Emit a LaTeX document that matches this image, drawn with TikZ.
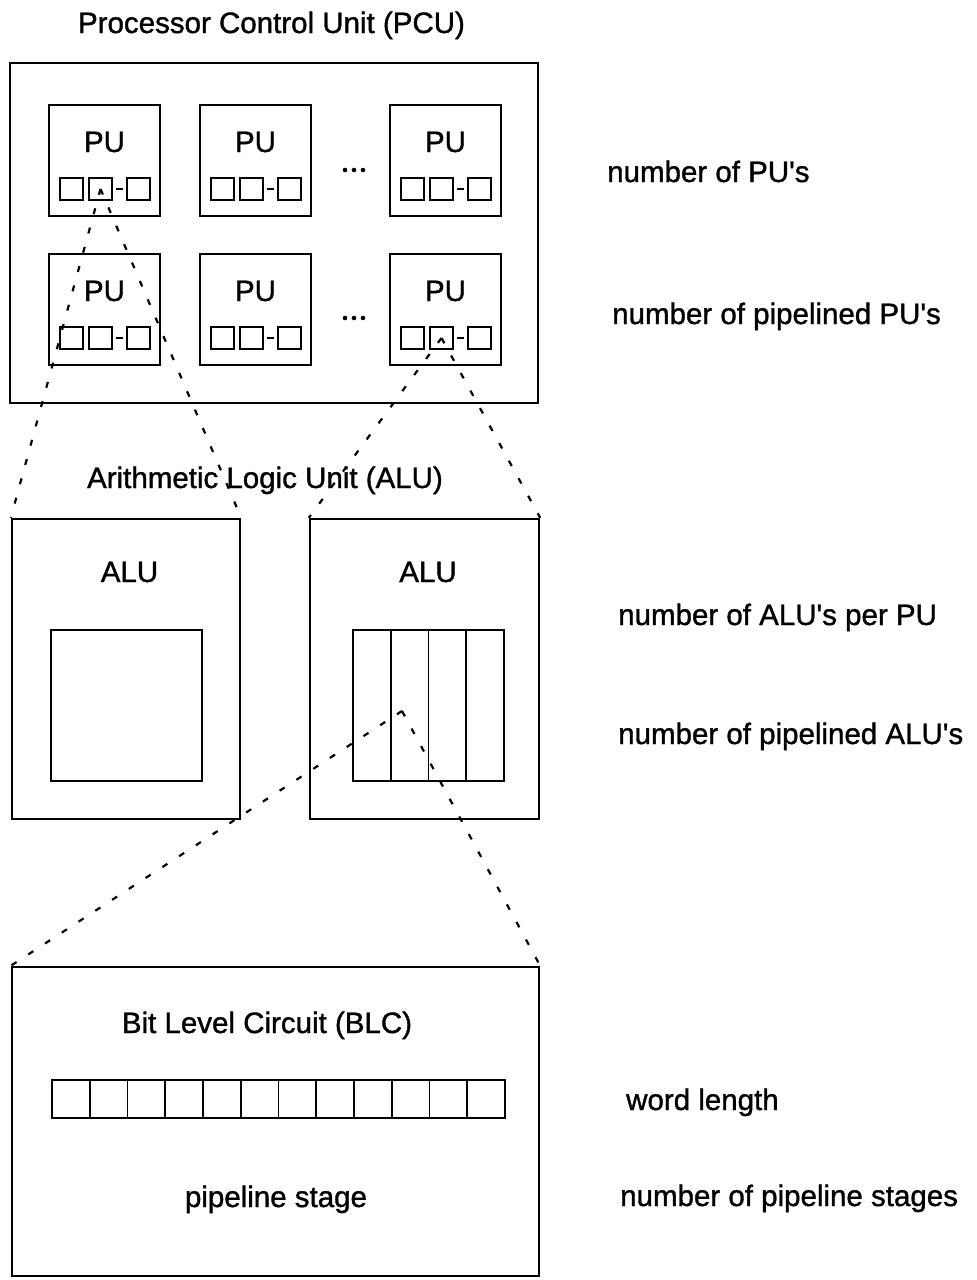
\documentclass[tikz,border=0pt]{standalone}
\usepackage{fontspec}
\setmainfont{Liberation Sans}[UprightFeatures={FakeBold=1.2}]
\newcommand{\apos}{\textquotesingle}
\tikzset{
  box/.style={draw, line width=2.4pt, rectangle, inner sep=0pt},
  cellbox/.style={draw, line width=1.9pt, rectangle, inner sep=0pt},
  txt/.style={inner sep=0pt, font=\fontsize{29.5}{35}\selectfont},
  zoomline/.style={line width=2.2pt, dash pattern=on 6pt off 14pt},
  % processing unit: box, label and its three register cells (origin = top-left corner)
  pubox/.pic={
    \node[box, minimum width=111pt, minimum height=111pt] (-box) at (55.5,55.5) {};
    \node[txt, anchor=base] (-lbl) at (55.5,47) {PU};
    \node[cellbox, minimum width=23pt, minimum height=22pt] (-a) at (22.5,84) {};
    \node[cellbox, minimum width=23pt, minimum height=22pt] (-b) at (51.5,84) {};
    \node[cellbox, minimum width=23pt, minimum height=22pt] (-c) at (89.5,84) {};
    \draw[line width=2.4pt] ([xshift=3.5pt]-b.east) -- ([xshift=-3.5pt]-c.west);
  }
}
\begin{document}
\begin{tikzpicture}[x=1pt,y=-1pt]
\useasboundingbox (0,0) rectangle (977,1280);

% ---------- processor control unit ----------
\node[txt, anchor=base] (pcuTitle) at (271.5,33) {Processor Control Unit (PCU)};
\node[box, minimum width=528pt, minimum height=340pt] (pcu) at (274,233) {};

\pic (p11) at (49,105) {pubox};
\pic (p12) at (200,105) {pubox};
\pic (p13) at (390,105) {pubox};
\pic (p21) at (49,254) {pubox};
\pic (p22) at (200,254) {pubox};
\pic (p23) at (390,254) {pubox};

\foreach \yy in {170,318}{
  \foreach \xx in {345,354,363}{
    \fill (\xx,\yy) circle (2.3pt);
  }
}

% ---------- arithmetic logic units ----------
\node[txt, anchor=base] (aluTitle) at (265,488) {Arithmetic Logic Unit (ALU)};

\node[box, minimum width=228pt, minimum height=300pt] (aluL) at (126,669) {};
\node[txt, anchor=base] (aluLlbl) at (129.5,582) {ALU};
\node[cellbox, minimum width=151pt, minimum height=151pt] (aluLcore) at (126.5,705.5) {};

\node[box, minimum width=229pt, minimum height=300pt] (aluR) at (424.5,669) {};
\node[txt, anchor=base] (aluRlbl) at (428,582) {ALU};
\foreach \i in {0,...,3}{
  \node[cellbox, minimum width=37.75pt, minimum height=151pt] (st\i) at ({371.875+37.75*\i},705.5) {};
}

% ---------- bit level circuit ----------
\node[box, minimum width=527pt, minimum height=309pt] (blc) at (275.5,1121.5) {};
\node[txt, anchor=base] (blcTitle) at (267,1033) {Bit Level Circuit (BLC)};
\foreach \i in {0,...,11}{
  \node[cellbox, minimum width=37.75pt, minimum height=38pt] (bit\i) at ({70.875+37.75*\i},1099) {};
}
\node[txt, anchor=base] (stageLbl) at (276,1207) {pipeline stage};

% ---------- zoom lines between levels ----------
\coordinate (apex) at (402,711);
\draw[zoomline] (p11-b.center) -- (aluL.north west);
\draw[zoomline] (p11-b.center) -- (aluL.north east);
\draw[zoomline] (p23-b.center) -- (aluR.north west);
\draw[zoomline] (p23-b.center) -- (aluR.north east);
\draw[zoomline] (apex) -- (blc.north west);
\draw[zoomline] (apex) -- (blc.north east);

% ---------- design parameters ----------
\node[txt, anchor=base west] (parPU)    at (607,182)  {number of PU\apos s};
\node[txt, anchor=base west] (parPPU)   at (612,324)  {number of pipelined PU\apos s};
\node[txt, anchor=base west] (parALU)   at (618,625)  {number of ALU\apos s per PU};
\node[txt, anchor=base west] (parPALU)  at (618,744)  {number of pipelined ALU\apos s};
\node[txt, anchor=base west] (parWord)  at (626,1110) {word length};
\node[txt, anchor=base west] (parStage) at (620,1206) {number of pipeline stages};
\end{tikzpicture}
\end{document}
